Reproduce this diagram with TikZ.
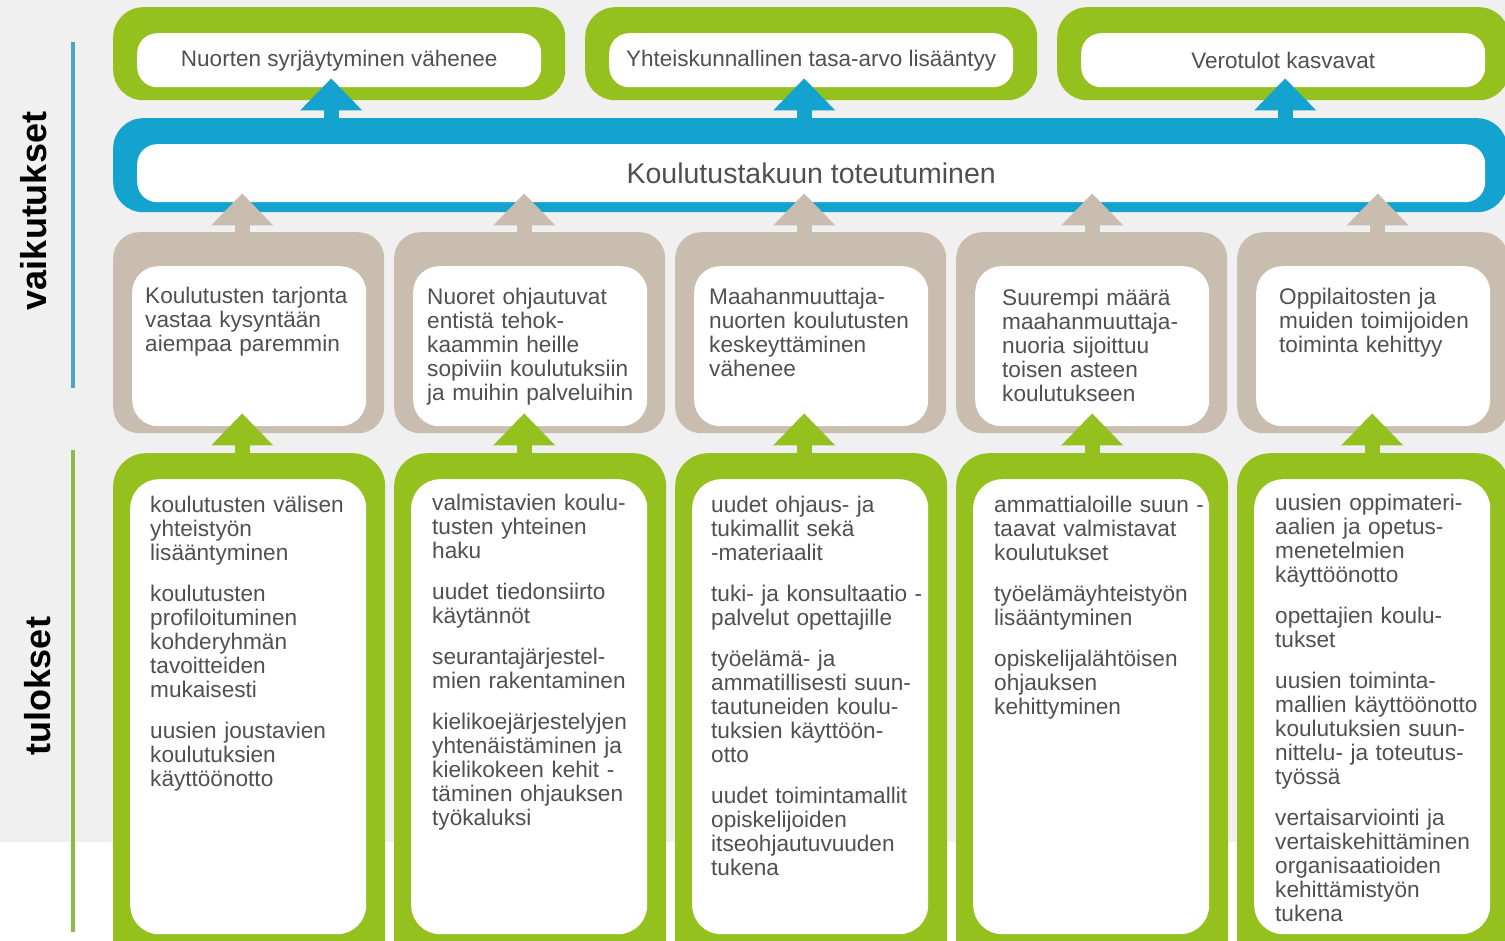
\documentclass[tikz,border=0pt]{standalone}
\usepackage{fontspec}
\setmainfont{Liberation Sans}
\usetikzlibrary{arrows.meta}
\definecolor{kgreen}{HTML}{95C11F}
\definecolor{kblue}{HTML}{14A3CF}
\definecolor{kbeige}{HTML}{C8BDAE}
\definecolor{kbg}{HTML}{F0F0F0}
\definecolor{ktext}{HTML}{505050}
\definecolor{klineb}{HTML}{4AA6C9}
\definecolor{klineg}{HTML}{8DBB47}
\newcommand{\fl}{\rule{0pt}{18pt}}
\newcommand{\pp}{\\[17pt]}
\tikzset{
  boxframe/.style={rounded corners=#1,inner sep=0pt,anchor=north west},
  boxwhite/.style={fill=white,rounded corners=#1,inner sep=0pt,anchor=north west},
  boxtext/.style={anchor=north west,inner sep=0pt,text width=250pt,align=left,text=ktext,font=\fontsize{22.6}{24}\selectfont},
  uparrow/.style={line width=15pt,color=#1,-{Triangle[width=60pt,length=32pt]}},
  side/.style={rotate=90,font=\bfseries\fontsize{36}{40}\selectfont}
}
\begin{document}
\begin{tikzpicture}[x=1pt,y=-1pt]
\useasboundingbox (0,0) rectangle (1505,940);
\clip (0,0) rectangle (1505,940);
\fill[kbg] (0,0) rectangle (1505,842);
\draw[klineb,line width=4pt] (73,42) -- (73,388);
\draw[klineg,line width=4pt] (73,450) -- (73,932);
\node[side] (vaik) at (34,211) {vaikutukset};
\node[side] (tul) at (38,686) {tulokset};
\foreach \i/\x/\txt in {1/113/Nuorten syrjäytyminen vähenee,2/585/Yhteiskunnallinen tasa-arvo lisääntyy,3/1057/Verotulot kasvavat}{
  \node[boxframe=30pt,fill=kgreen,minimum width=452pt,minimum height=93pt] (vf\i) at (\x,7) {};
  \node[boxwhite=20pt,minimum width=404pt,minimum height=54pt,text=ktext,font=\fontsize{22.5}{24}\selectfont] (v\i) at (\x+24,33) {\txt};
}
\node[boxframe=30pt,fill=kblue,minimum width=1394pt,minimum height=94pt] (kf) at (113,118) {};
\node[boxwhite=20pt,minimum width=1348pt,minimum height=58pt,text=ktext,font=\fontsize{28.5}{30}\selectfont] (k) at (137,144) {Koulutustakuun toteutuminen};
\foreach \i in {1,...,5}{
  \pgfmathsetmacro{\xo}{113+281*(\i-1)}
  \node[boxframe=26pt,fill=kbeige,minimum width=271pt,minimum height=201pt] (mf\i) at (\xo,232) {};
  \node[boxwhite=26pt,minimum width=234pt,minimum height=160pt] (m\i) at (\xo+19,266) {};
  \node[boxframe=33pt,fill=kgreen,minimum width=272pt,minimum height=520pt] (tf\i) at (\xo,453) {};
  \node[boxwhite=29pt,minimum width=236pt,minimum height=455pt] (t\i) at (\xo+17,479) {};
}
\foreach \i/\dx in {1/-8,2/-7,3/2}{
  \coordinate (va\i) at ([xshift=\dx pt]vf\i.south);
  \draw[uparrow=kblue,shorten >=-22pt] (va\i |- kf.north) -- (va\i);
}
\foreach \i/\dx in {1/-6.5,2/-5.5,3/-6.5,4/0.5,5/5}{
  \coordinate (ma\i) at ([xshift=\dx pt]mf\i.north);
  \draw[uparrow=kbeige,shorten >=-19pt] (ma\i) -- (ma\i |- kf.south);
}
\foreach \i/\dx in {1/-7,2/-6,3/-7,4/0,5/-1}{
  \coordinate (ta\i) at ([xshift=\dx pt]tf\i.north);
  \draw[uparrow=kgreen,shorten >=-20pt] (ta\i) -- (ta\i |- mf\i.south);
}
\node[boxtext] (mt1) at ([shift={(13,19)}]m1.north west) {\fl Koulutusten tarjonta\\vastaa kysyntään\\aiempaa paremmin};
\node[boxtext] (mt2) at ([shift={(14,20)}]m2.north west) {\fl Nuoret ohjautuvat\\entistä tehok-\\kaammin heille\\sopiviin koulutuksiin\\ja muihin palveluihin};
\node[boxtext] (mt3) at ([shift={(15,20)}]m3.north west) {\fl Maahanmuuttaja-\\nuorten koulutusten\\keskeyttäminen\\vähenee};
\node[boxtext] (mt4) at ([shift={(27,21)}]m4.north west) {\fl Suurempi määrä\\maahanmuuttaja-\\nuoria sijoittuu\\toisen asteen\\koulutukseen};
\node[boxtext] (mt5) at ([shift={(23,20)}]m5.north west) {\fl Oppilaitosten ja\\muiden toimijoiden\\toiminta kehittyy};
\node[boxtext] (tt1) at ([shift={(20,15)}]t1.north west) {\fl koulutusten välisen\\yhteistyön\\lisääntyminen\pp koulutusten\\profiloituminen\\kohderyhmän\\tavoitteiden\\mukaisesti\pp uusien joustavien\\koulutuksien\\käyttöönotto};
\node[boxtext] (tt2) at ([shift={(21,13)}]t2.north west) {\fl valmistavien koulu-\\tusten yhteinen\\haku\pp uudet tiedonsiirto\\käytännöt\pp seurantajärjestel-\\mien rakentaminen\pp kielikoejärjestelyjen\\yhtenäistäminen ja\\kielikokeen kehit -\\täminen ohjauksen\\työkaluksi};
\node[boxtext] (tt3) at ([shift={(19,15)}]t3.north west) {\fl uudet ohjaus- ja\\tukimallit sekä\\-materiaalit\pp tuki- ja konsultaatio -\\palvelut opettajille\pp työelämä- ja\\ammatillisesti suun-\\tautuneiden koulu-\\tuksien käyttöön-\\otto\pp uudet toimintamallit\\opiskelijoiden\\itseohjautuvuuden\\tukena};
\node[boxtext] (tt4) at ([shift={(21,15)}]t4.north west) {\fl ammattialoille suun -\\taavat valmistavat\\koulutukset\pp työelämäyhteistyön\\lisääntyminen\pp opiskelijalähtöisen\\ohjauksen\\kehittyminen};
\node[boxtext] (tt5) at ([shift={(21,13)}]t5.north west) {\fl uusien oppimateri-\\aalien ja opetus-\\menetelmien\\käyttöönotto\pp opettajien koulu-\\tukset\pp uusien toiminta-\\mallien käyttöönotto\\koulutuksien suun-\\nittelu- ja toteutus-\\työssä\pp vertaisarviointi ja\\vertaiskehittäminen\\organisaatioiden\\kehittämistyön\\tukena};
\end{tikzpicture}
\end{document}
